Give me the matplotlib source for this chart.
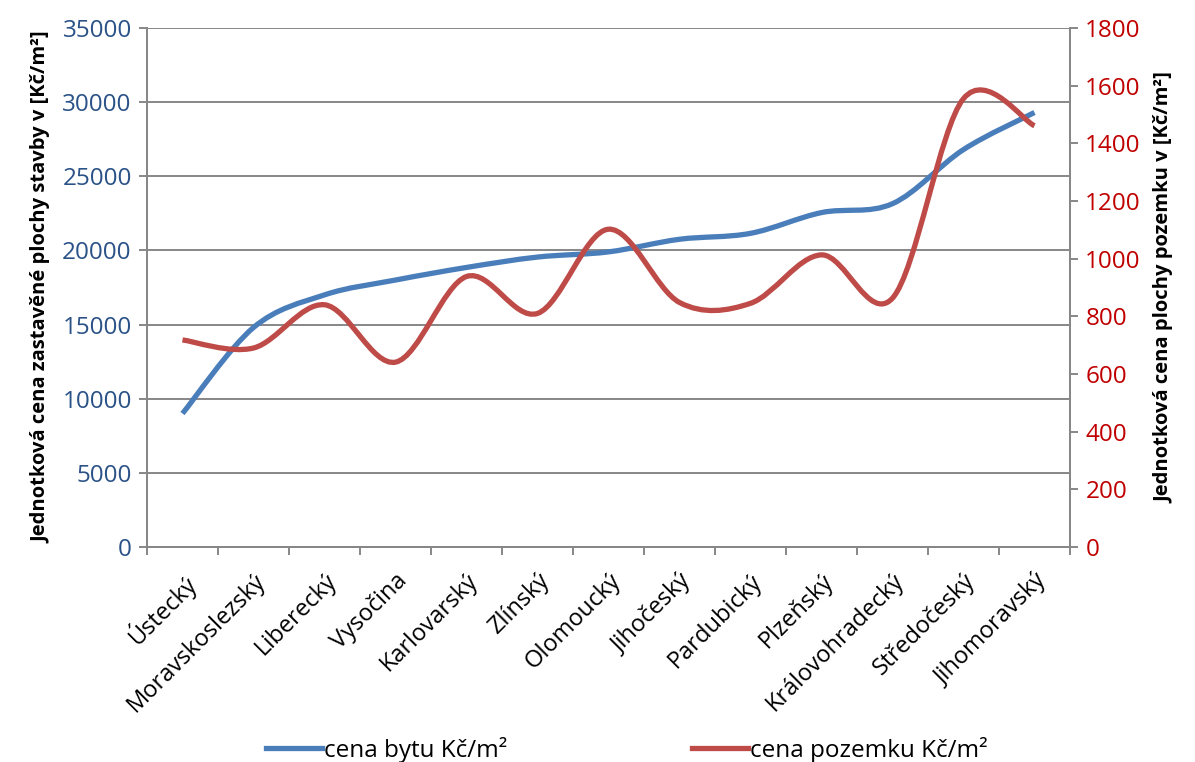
import matplotlib
matplotlib.use("Agg")
import matplotlib.pyplot as plt
from matplotlib.path import Path
from matplotlib.patches import PathPatch
from matplotlib.lines import Line2D
import numpy as np

# --- data ---
regions = ["Ústecký", "Moravskoslezský", "Liberecký", "Vysočina", "Karlovarský",
           "Zlínský", "Olomoucký", "Jihočeský", "Pardubický", "Plzeňský",
           "Královohradecký", "Středočeský", "Jihomoravský"]
cena_bytu = [9000, 14800, 17000, 18000, 18850, 19550, 19900, 20750, 21150,
             22550, 23150, 26800, 29300]
cena_pozemku = [718, 690, 840, 641, 938, 810, 1102, 848, 845, 1013, 863,
                1555, 1461]

BLUE = "#4A7EBB"
RED = "#BE4B48"
GRID = "#878787"
FONT = ["Open Sans", "DejaVu Sans"]


def smooth_path(xs, ys):
    # Excel-like smoothed line: cubic Bezier through every point
    pts = np.column_stack([xs, ys]).astype(float)
    n = len(pts)
    verts = [pts[0]]
    codes = [Path.MOVETO]
    for i in range(n - 1):
        p0 = pts[max(i - 1, 0)]
        p1 = pts[i]
        p2 = pts[i + 1]
        p3 = pts[min(i + 2, n - 1)]
        c1 = p1 + (p2 - p0) / 6.0
        c2 = p2 - (p3 - p1) / 6.0
        verts += [c1, c2, p2]
        codes += [Path.CURVE4] * 3
    return Path(verts, codes)


plt.rcParams["font.family"] = FONT

fig = plt.figure(figsize=(11.95, 7.62), dpi=100)
ax = fig.add_axes([0.123, 0.2822, 0.7724, 0.6811])
ax2 = ax.twinx()

x = np.arange(len(regions))
ax.add_patch(PathPatch(smooth_path(x, cena_bytu), facecolor="none",
                       edgecolor=BLUE, lw=3.8, capstyle="butt", zorder=3))
ax2.add_patch(PathPatch(smooth_path(x, cena_pozemku), facecolor="none",
                        edgecolor=RED, lw=3.8, capstyle="butt", zorder=3))

ax.set_xlim(-0.5, len(regions) - 0.5)
ax.set_ylim(0, 35000)
ax2.set_ylim(0, 1800)
ax.set_yticks(np.arange(0, 35001, 5000))
ax2.set_yticks(np.arange(0, 1801, 200))

ax.yaxis.grid(True, color=GRID, lw=1.4)
ax.set_axisbelow(True)

for a in (ax, ax2):
    for s in a.spines.values():
        s.set_color(GRID)
        s.set_linewidth(1.4)
    a.spines["top"].set_visible(False)

# x axis: ticks at category boundaries, labels at centres
ax.set_xticks(np.arange(-0.5, len(regions) + 0.5, 1.0))
ax.set_xticklabels([])
ax.tick_params(axis="x", which="major", length=6, width=1.4, color=GRID,
               direction="out")
ax.set_xticks(x, minor=True)
ax.set_xticklabels(regions, minor=True, rotation=45, ha="right",
                   rotation_mode="anchor", fontsize=17, color="black")
ax.tick_params(axis="x", which="minor", length=0, pad=16)

ax.tick_params(axis="y", length=6, width=1.4, color=GRID, labelsize=17.5,
               labelcolor="#2A5287", pad=5)
ax2.tick_params(axis="y", length=6, width=1.4, color=GRID, labelsize=17.5,
                labelcolor="#C00000", pad=5)

ax.set_ylabel("Jednotková cena zastavěné plochy stavby v [Kč/m²]",
              fontsize=14.5, fontweight="bold", color="black", labelpad=8)
ax2.set_ylabel("Jednotková cena plochy pozemku v [Kč/m²]",
               fontsize=14.5, fontweight="bold", color="black", labelpad=10)

handles = [Line2D([], [], color=BLUE, lw=3.8),
           Line2D([], [], color=RED, lw=3.8)]
fig.legend(handles, ["cena bytu Kč/m²", "cena pozemku Kč/m²"],
           loc="center left", bbox_to_anchor=(266 / 1195, 0.016), ncol=2,
           frameon=False, borderpad=0, borderaxespad=0,
           fontsize=17.5, handlelength=2.3, handletextpad=0.08,
           columnspacing=7.6)

fig.savefig("out.png", dpi=100)
